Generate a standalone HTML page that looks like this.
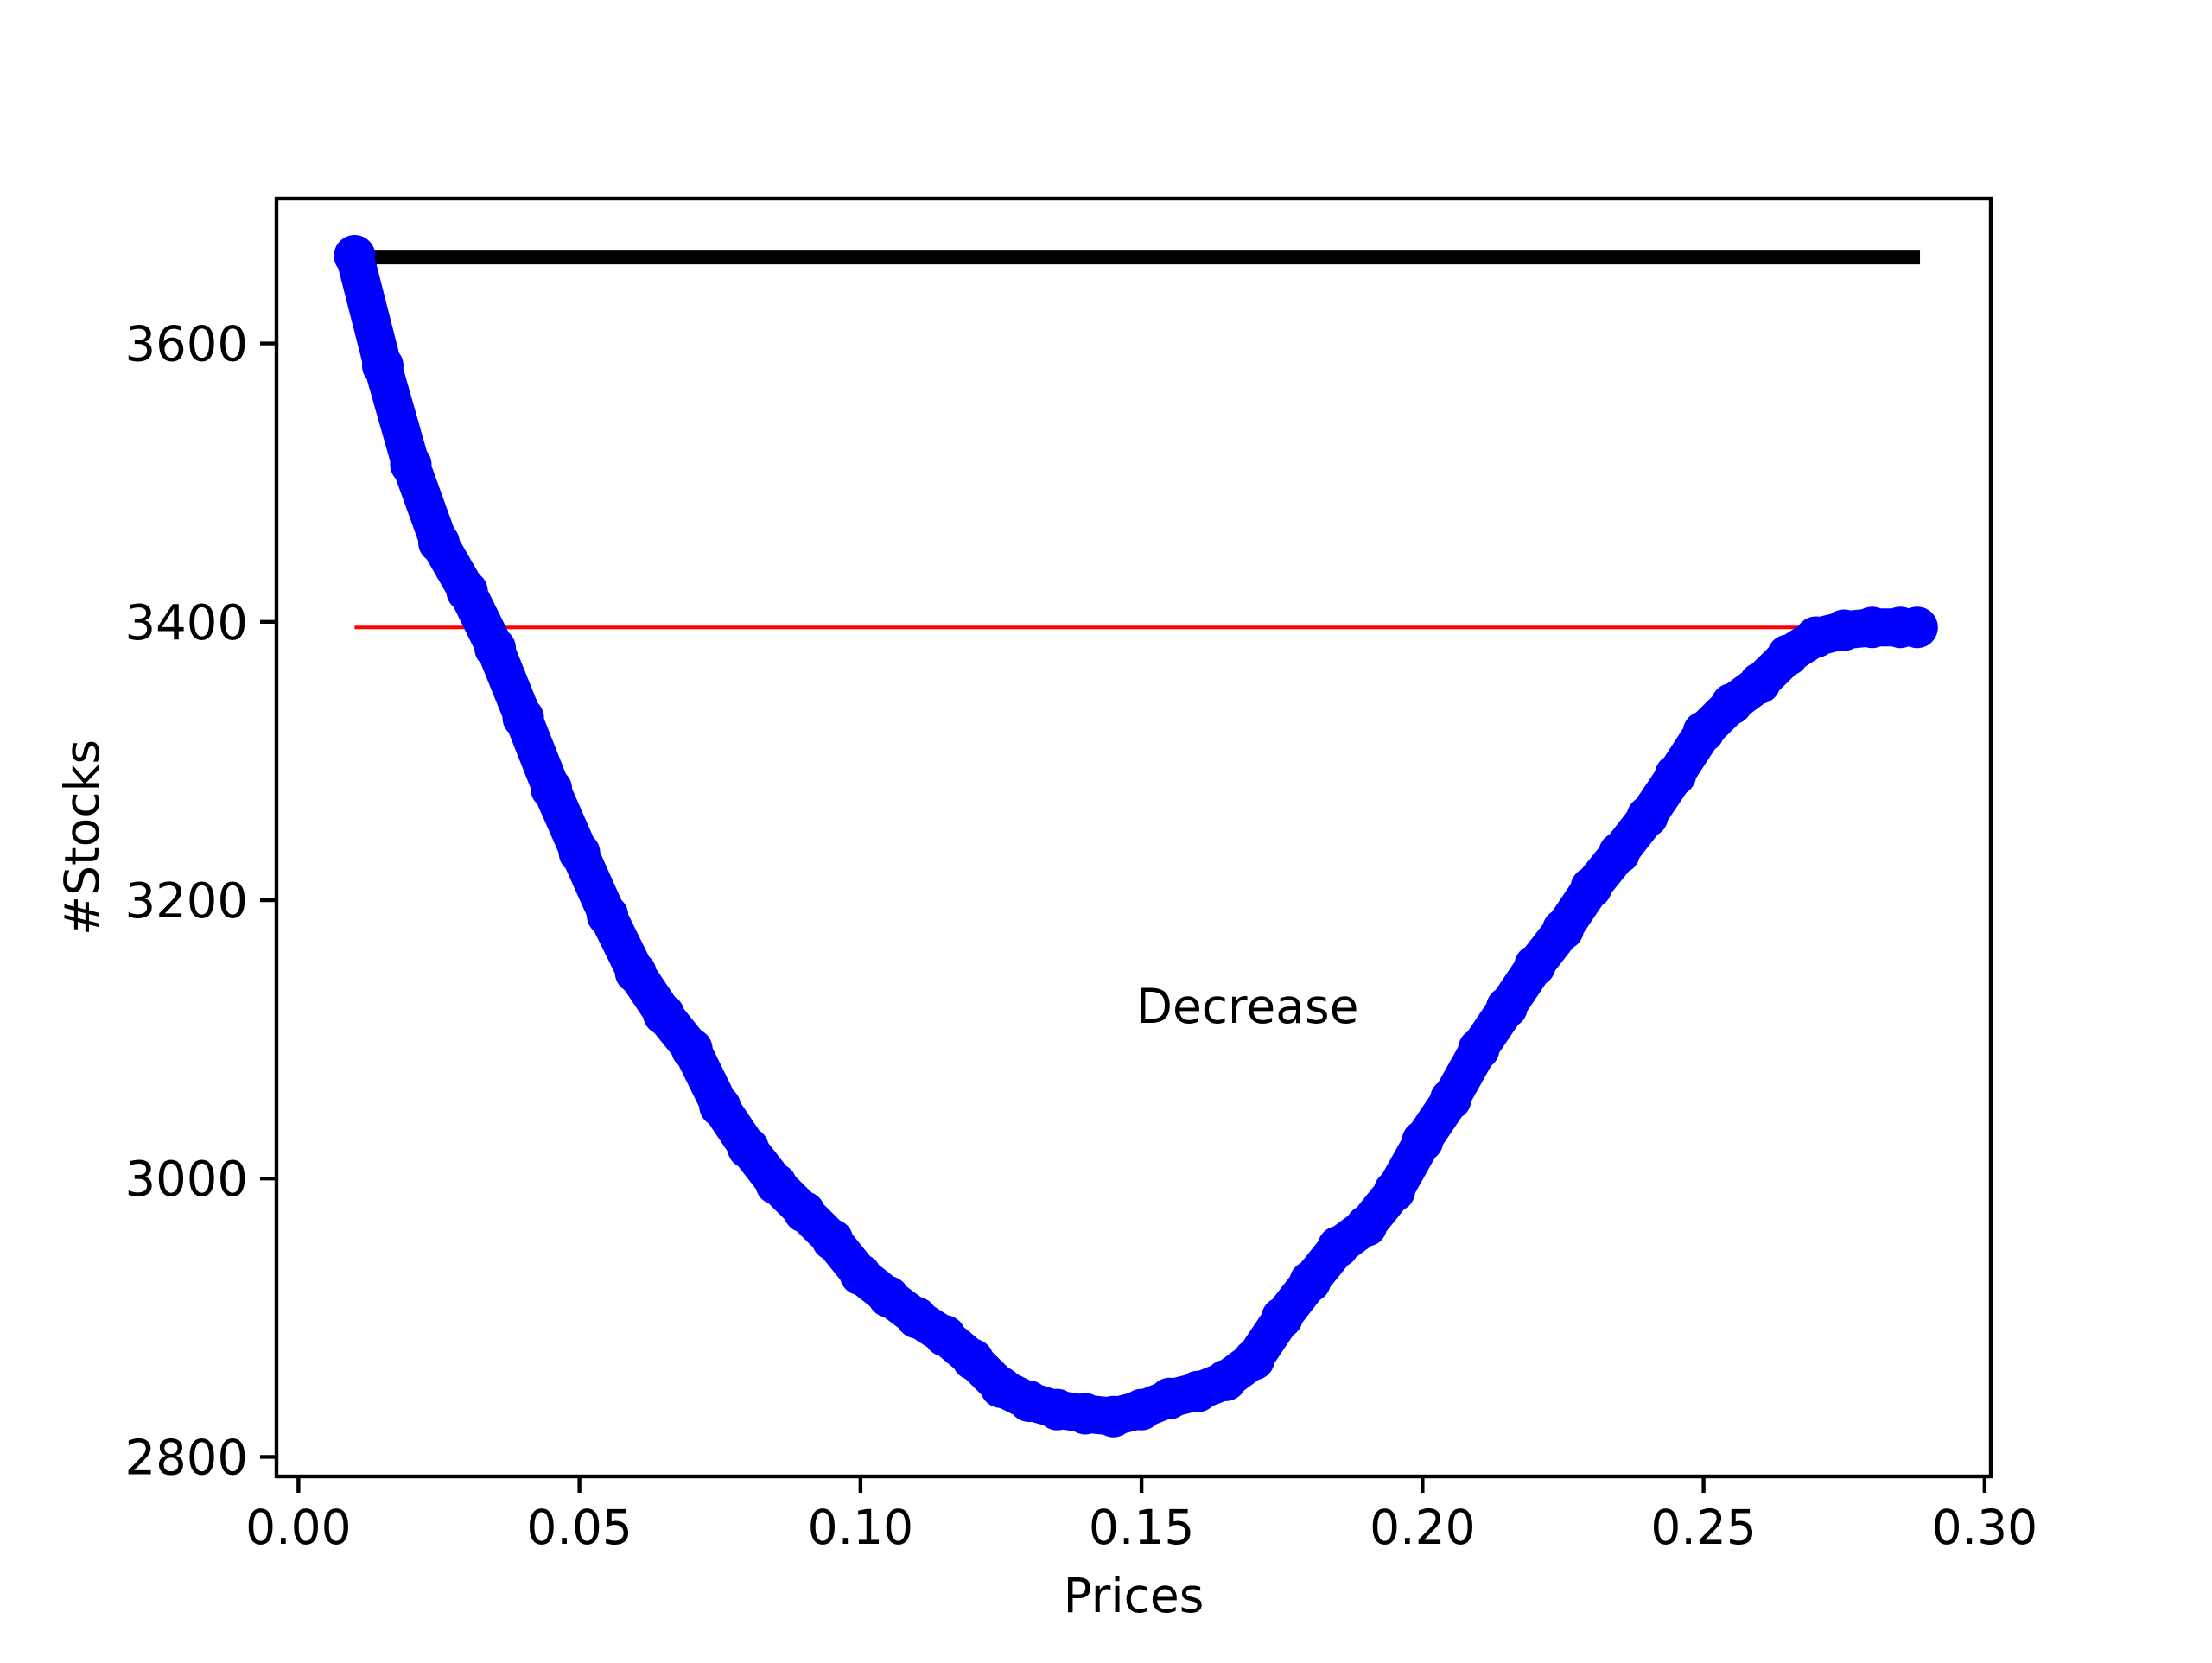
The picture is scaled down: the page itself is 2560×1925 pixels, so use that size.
<!DOCTYPE html>
<html><head><meta charset="utf-8"><style>
html,body{margin:0;padding:0;background:#fff}
text{font-family:"DejaVu Sans","Liberation Sans",sans-serif;fill:#000}
</style></head><body>
<svg id="chart" width="2560" height="1920" viewBox="0 0 2560 1920" xmlns="http://www.w3.org/2000/svg">
<rect width="2560" height="1920" fill="#fff"/>
<g id="plot"></g>
</svg>
<script>
const prices=[0.010,0.015,0.020,0.025,0.030,0.035,0.040,0.045,0.050,0.055,0.060,0.065,0.070,0.075,0.080,0.085,0.090,0.095,0.100,0.105,0.110,0.115,0.120,0.125,0.130,0.135,0.140,0.145,0.150,0.155,0.160,0.165,0.170,0.175,0.180,0.185,0.190,0.195,0.200,0.205,0.210,0.215,0.220,0.225,0.230,0.235,0.240,0.245,0.250,0.255,0.260,0.265,0.270,0.275,0.280,0.285,0.288];
const stocks=[3663,3584,3513,3457,3422,3381,3331,3280,3234,3189,3148,3118,3093,3052,3022,2996,2976,2956,2931,2915,2900,2887,2870,2850,2840,2834,2831,2829,2834,2842,2847,2855,2870,2900,2926,2951,2966,2991,3027,3057,3093,3123,3153,3179,3209,3234,3260,3290,3321,3341,3356,3376,3389,3394,3396,3396,3396];
const maxLine=3662;
const refLine=3396;
const xTicks=[0,0.05,0.10,0.15,0.20,0.25,0.30];
const xTickLabels=["0.00","0.05","0.10","0.15","0.20","0.25","0.30"];
const yTicks=[2800,3000,3200,3400,3600];
const yTickLabels=["2800","3000","3200","3400","3600"];
const L=320,R=2304,T=230,B=1709;
const xmin=-0.0039,xmax=0.3011,ymin=2786,ymax=3704;
const X=v=>L+(v-xmin)/(xmax-xmin)*(R-L);
const Y=v=>B-(v-ymin)/(ymax-ymin)*(B-T);
const NS="http://www.w3.org/2000/svg";
const g=document.getElementById('plot');
function mk(tag,attrs,parent){const e=document.createElementNS(NS,tag);for(const k in attrs)e.setAttribute(k,attrs[k]);(parent||g).appendChild(e);return e;}
const x0=prices[0],x1=prices[prices.length-1];
let e=mk('line',{x1:X(x0),x2:X(0.2885),y1:Y(maxLine),y2:Y(maxLine),stroke:'#000','stroke-width':17});


e=mk('line',{x1:X(x0),x2:X(x1),y1:Y(refLine),y2:Y(refLine),stroke:'#f00','stroke-width':4});


const sg=mk('g',{});


e=mk('polyline',{points:prices.map((p,i)=>X(p)+','+Y(stocks[i])).join(' '),fill:'none',stroke:'#0000ff','stroke-width':44,'stroke-linejoin':'round','stroke-linecap':'round'},sg);


prices.forEach((p,i)=>{const c=mk('circle',{cx:X(p),cy:Y(stocks[i]),r:24,fill:'#0000ff'},sg);

});
e=mk('rect',{x:L,y:T,width:R-L,height:B-T,fill:'none',stroke:'#000','stroke-width':4.4});


xTicks.forEach((v,i)=>{const t=mk('line',{x1:X(v),x2:X(v),y1:B,y2:B+19,stroke:'#000','stroke-width':4.4});


const tx=mk('text',{x:X(v),y:B+78,'text-anchor':'middle','font-size':55});tx.textContent=xTickLabels[i];

});
yTicks.forEach((v,i)=>{const t=mk('line',{x1:L-19,x2:L,y1:Y(v),y2:Y(v),stroke:'#000','stroke-width':4.4});


const tx=mk('text',{x:L-33,y:Y(v)+20,'text-anchor':'end','font-size':56});tx.textContent=yTickLabels[i];

});
e=mk('text',{x:(L+R)/2,y:1866,'text-anchor':'middle','font-size':55});e.textContent='Prices';


e=mk('text',{x:0,y:0,'text-anchor':'middle','font-size':55,transform:'translate(114,'+((T+B)/2)+') rotate(-90)'});e.textContent='#Stocks';


e=mk('text',{x:X(0.149),y:Y(3112),'font-size':55});e.textContent='Decrease';


</script>
</body></html>
